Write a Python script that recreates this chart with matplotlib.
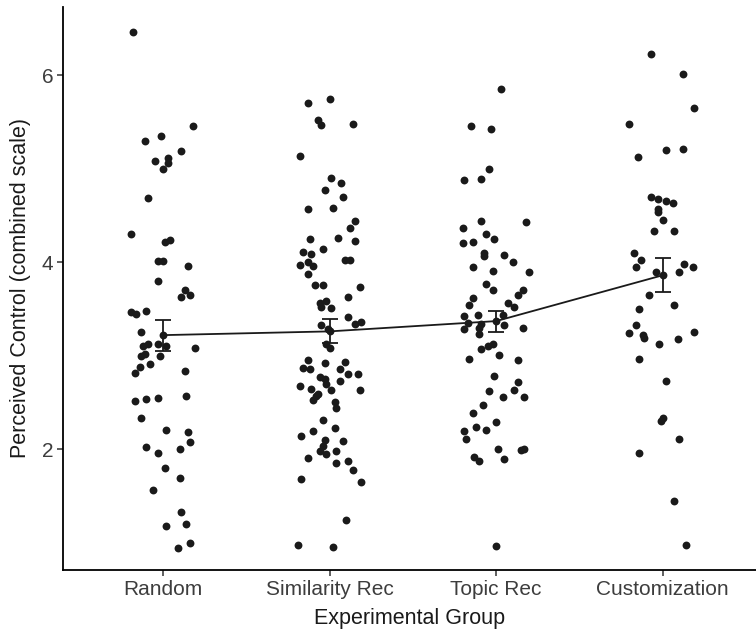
import numpy as np
import matplotlib.pyplot as plt

plt.rcParams['font.family'] = ['Liberation Sans', 'DejaVu Sans']

groups = ["Random", "Similarity Rec", "Topic Rec", "Customization"]

# perceived control scores per group, with the horizontal jitter
random_y = [6.46, 5.45, 5.35, 5.30, 5.19, 5.11, 5.06, 5.08, 5.00, 4.69, 4.30, 4.22, 4.24,
            4.01, 4.01, 3.96, 3.80, 3.70, 3.63, 3.65, 3.47, 3.45, 3.48, 3.25, 3.13, 3.10,
            3.12, 3.10, 3.02, 3.00, 3.00, 3.08, 2.91, 2.88, 2.81, 2.84, 2.52, 2.54, 2.55,
            2.57, 2.33, 2.21, 2.18, 2.08, 2.02, 1.96, 2.00, 1.80, 1.69, 1.57, 1.33, 1.20,
            1.18, 1.00, 0.95]
random_jit = [-0.18, 0.18, -0.01, -0.11, 0.11, 0.03, 0.03, -0.05, 0.00, -0.09, -0.19, 0.01, 0.04,
              -0.03, 0.00, 0.15, -0.03, 0.13, 0.11, 0.16, -0.19, -0.16, -0.10, -0.13, -0.09, -0.12,
              -0.03, 0.02, -0.11, -0.13, -0.02, 0.19, -0.08, -0.14, -0.17, 0.13, -0.17, -0.10, -0.03,
              0.14, -0.13, 0.02, 0.15, 0.16, -0.10, -0.03, 0.10, 0.01, 0.10, -0.06, 0.11, 0.14,
              0.02, 0.16, 0.09]

simrec_y = [5.70, 5.74, 5.52, 5.47, 5.48, 5.13, 4.90, 4.85, 4.77, 4.70, 4.57, 4.58, 4.44,
            4.36, 4.25, 4.26, 4.23, 4.11, 4.09, 4.14, 4.02, 4.02, 3.97, 4.00, 3.96, 3.87,
            3.76, 3.76, 3.73, 3.63, 3.56, 3.59, 3.52, 3.51, 3.41, 3.34, 3.36, 3.33, 3.29,
            3.12, 3.08, 2.95, 2.87, 2.86, 2.92, 2.93, 2.86, 2.80, 2.80, 2.77, 2.75, 2.68,
            2.70, 2.73, 2.64, 2.63, 2.63, 2.59, 2.57, 2.53, 2.51, 2.44, 2.31, 2.20, 2.23,
            2.14, 2.10, 2.09, 2.04, 1.98, 1.95, 1.98, 1.91, 1.85, 1.87, 1.78, 1.68, 1.65,
            1.24, 0.98, 0.96]
simrec_jit = [-0.13, 0.00, -0.07, -0.05, 0.14, -0.18, 0.01, 0.07, -0.03, 0.08, -0.13, 0.02, 0.15,
              0.12, -0.12, 0.05, 0.15, -0.16, -0.11, -0.04, 0.09, 0.12, -0.18, -0.13, -0.10, -0.13,
              -0.09, -0.04, 0.18, 0.11, -0.06, -0.02, -0.05, 0.01, 0.11, 0.15, 0.19, -0.05, -0.01,
              -0.02, 0.00, -0.13, -0.16, -0.12, -0.03, 0.09, 0.06, 0.11, 0.17, -0.06, -0.03, -0.18,
              -0.02, 0.06, -0.11, 0.01, 0.18, -0.07, -0.08, -0.10, 0.03, 0.04, -0.04, -0.10, 0.03,
              -0.17, -0.03, 0.08, -0.04, -0.06, -0.02, 0.04, -0.13, 0.04, 0.11, 0.14, -0.17, 0.19,
              0.10, -0.19, 0.02]

topic_y = [5.85, 5.45, 5.42, 5.00, 4.88, 4.89, 4.44, 4.43, 4.37, 4.30, 4.25, 4.20, 4.22,
           4.10, 4.07, 4.08, 4.00, 3.95, 3.91, 3.90, 3.77, 3.70, 3.62, 3.65, 3.70, 3.56,
           3.52, 3.54, 3.42, 3.43, 3.44, 3.35, 3.34, 3.33, 3.29, 3.30, 3.30, 3.23, 3.13,
           3.10, 3.07, 3.01, 2.97, 2.95, 2.78, 2.72, 2.62, 2.63, 2.56, 2.56, 2.47, 2.39,
           2.29, 2.24, 2.21, 2.20, 2.11, 2.00, 1.99, 2.00, 1.92, 1.87, 1.90, 0.97]
topic_jit = [0.03, -0.15, -0.03, -0.04, -0.19, -0.09, -0.09, 0.18, -0.20, -0.06, -0.01, -0.20, -0.14,
             -0.07, -0.07, 0.05, 0.10, -0.14, -0.02, 0.20, -0.06, -0.02, -0.14, 0.13, 0.16, 0.07,
             0.11, -0.16, -0.19, -0.11, 0.04, -0.17, -0.09, 0.05, -0.19, -0.10, 0.16, -0.10, -0.02,
             -0.05, -0.09, 0.02, -0.16, 0.13, -0.01, 0.13, -0.04, 0.11, 0.04, 0.17, -0.08, -0.14,
             0.00, -0.12, -0.06, -0.19, -0.18, 0.01, 0.15, 0.17, -0.13, -0.10, 0.05, 0.00]

custom_y = [6.22, 6.01, 5.65, 5.48, 5.20, 5.21, 5.12, 4.70, 4.67, 4.65, 4.63, 4.57, 4.54,
            4.45, 4.33, 4.33, 4.10, 4.02, 3.95, 3.98, 3.95, 3.89, 3.89, 3.65, 3.54, 3.50,
            3.33, 3.24, 3.22, 3.19, 3.12, 3.18, 3.25, 2.97, 2.73, 2.33, 2.30, 2.11, 1.96,
            1.45, 0.98]
custom_jit = [-0.07, 0.12, 0.19, -0.20, 0.02, 0.12, -0.15, -0.07, -0.03, 0.02, 0.06, -0.03, -0.03,
              0.00, -0.05, 0.07, -0.17, -0.13, -0.16, 0.13, 0.18, 0.10, -0.04, -0.08, 0.07, -0.14,
              -0.16, -0.20, -0.12, -0.11, -0.02, 0.09, 0.19, -0.14, 0.02, 0.00, -0.01, 0.10, -0.14,
              0.07, 0.14]

# group means and standard errors
means = [3.22, 3.26, 3.37, 3.86]
se_low = [3.05, 3.14, 3.25, 3.68]
se_high = [3.38, 3.39, 3.48, 4.04]

fig = plt.figure(figsize=(7.56, 6.35), dpi=100)
ax = fig.add_axes([0.0833, 0.1024, 0.9167, 0.887])

all_y = [random_y, simrec_y, topic_y, custom_y]
all_jit = [random_jit, simrec_jit, topic_jit, custom_jit]
for i, (ys, js) in enumerate(zip(all_y, all_jit)):
    xs = np.array(js) + i + 1
    ax.scatter(xs, ys, s=32, color='#1a1a1a', linewidths=0, zorder=2)

pos = np.arange(1, 5)
m = np.array(means)
ax.scatter(pos, m, s=32, color='#1a1a1a', linewidths=0, zorder=3)
ax.plot(pos, m, color='#1a1a1a', lw=1.3, zorder=4)
ax.errorbar(pos, m, yerr=[m - np.array(se_low), np.array(se_high) - m], fmt='none',
            ecolor='#1a1a1a', elinewidth=1.3, capsize=6, capthick=1.3, zorder=4)

ax.set_xlim(0.4, 4.56)
ax.set_ylim(0.71, 6.73)
ax.set_xticks(pos)
ax.set_xticklabels(groups)
ax.set_yticks([2, 4, 6])

for side in ['top', 'right']:
    ax.spines[side].set_visible(False)
for side in ['left', 'bottom']:
    ax.spines[side].set_linewidth(1.3)
    ax.spines[side].set_color('black')
ax.tick_params(length=4, width=1.1, color='#333333', labelsize=15, labelcolor='#3d3d3d', pad=3)

ax.set_xlabel("Experimental Group", fontsize=15.5, labelpad=7, color='#1a1a1a')
ax.set_ylabel("Perceived Control (combined scale)", fontsize=15.5, labelpad=8, color='#1a1a1a')

fig.savefig("out.png", dpi=100)
